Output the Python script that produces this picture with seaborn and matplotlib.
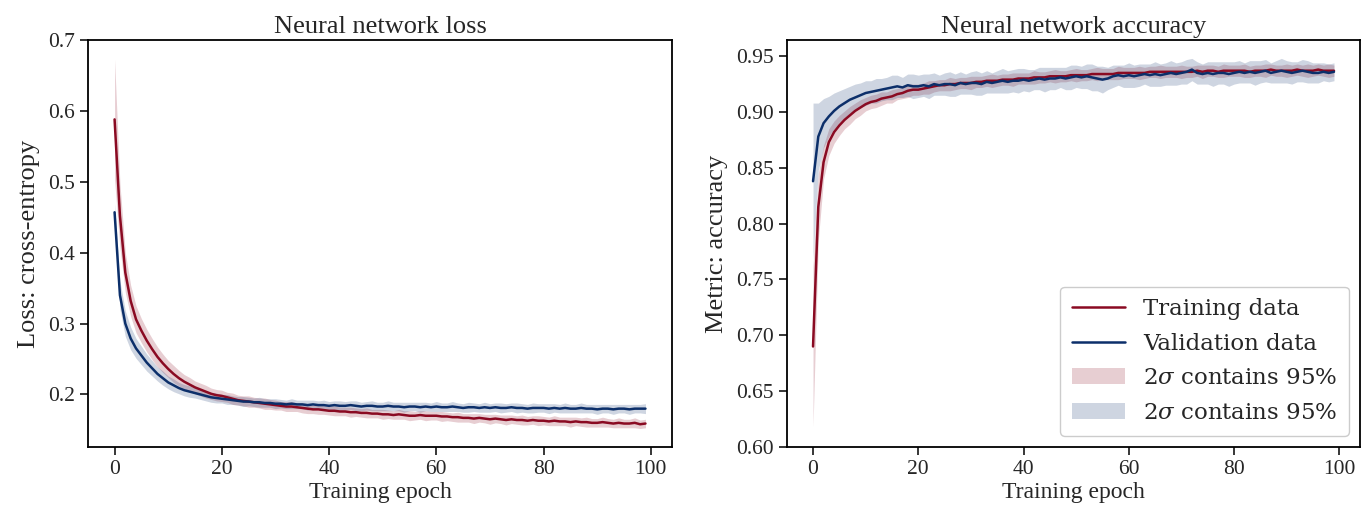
import numpy as np
import pandas as pd
import matplotlib.pyplot as plt
import seaborn as sns
from matplotlib.lines import Line2D
from matplotlib.patches import Patch

# Datos (época 0..99)
epochs = list(range(100))

train_loss = [
    0.588, 0.452, 0.372, 0.332, 0.306, 0.290, 0.276, 0.264, 0.253, 0.244,
    0.236, 0.229, 0.223, 0.218, 0.214, 0.210, 0.207, 0.204, 0.201, 0.199,
    0.198, 0.196, 0.194, 0.192, 0.191, 0.190, 0.189, 0.188, 0.187, 0.186,
    0.185, 0.184, 0.183, 0.183, 0.182, 0.181, 0.180, 0.179, 0.179, 0.178,
    0.177, 0.177, 0.176, 0.176, 0.175, 0.175, 0.174, 0.174, 0.173, 0.173,
    0.172, 0.172, 0.171, 0.172, 0.171, 0.170, 0.170, 0.171, 0.170, 0.170,
    0.170, 0.169, 0.169, 0.168, 0.168, 0.167, 0.167, 0.166, 0.167, 0.166,
    0.165, 0.166, 0.165, 0.164, 0.165, 0.164, 0.164, 0.163, 0.164, 0.163,
    0.163, 0.162, 0.163, 0.162, 0.162, 0.161, 0.162, 0.161, 0.161, 0.160,
    0.160, 0.161, 0.160, 0.159, 0.160, 0.159, 0.159, 0.160, 0.158, 0.159,
]
val_loss = [
    0.457, 0.340, 0.300, 0.279, 0.265, 0.255, 0.245, 0.237, 0.229, 0.223,
    0.217, 0.213, 0.209, 0.206, 0.204, 0.202, 0.200, 0.198, 0.196, 0.195,
    0.194, 0.193, 0.192, 0.191, 0.190, 0.190, 0.189, 0.189, 0.188, 0.188,
    0.187, 0.187, 0.186, 0.187, 0.186, 0.186, 0.185, 0.186, 0.185, 0.185,
    0.184, 0.185, 0.184, 0.184, 0.185, 0.184, 0.183, 0.184, 0.184, 0.183,
    0.183, 0.184, 0.183, 0.183, 0.182, 0.183, 0.183, 0.182, 0.183, 0.182,
    0.183, 0.182, 0.182, 0.183, 0.182, 0.181, 0.182, 0.182, 0.181, 0.182,
    0.181, 0.182, 0.181, 0.181, 0.182, 0.181, 0.181, 0.180, 0.181, 0.181,
    0.181, 0.180, 0.181, 0.180, 0.181, 0.180, 0.180, 0.181, 0.180, 0.180,
    0.179, 0.180, 0.180, 0.179, 0.180, 0.180, 0.179, 0.180, 0.180, 0.180,
]
# medio ancho de la banda 2-sigma
train_loss_band = [
    0.085, 0.045, 0.028, 0.022, 0.019, 0.017, 0.016, 0.015, 0.014, 0.013,
    0.012, 0.012, 0.011, 0.010, 0.010, 0.009, 0.009, 0.009, 0.008, 0.008,
    0.008, 0.007, 0.008, 0.007, 0.007, 0.008, 0.007, 0.007, 0.008, 0.007,
    0.007, 0.006, 0.007, 0.007, 0.006, 0.007, 0.007, 0.006, 0.007, 0.006,
    0.006, 0.007, 0.006, 0.006, 0.007, 0.006, 0.006, 0.007, 0.006, 0.006,
    0.007, 0.006, 0.006, 0.007, 0.006, 0.007, 0.006, 0.006, 0.007, 0.006,
    0.006, 0.007, 0.006, 0.006, 0.007, 0.006, 0.006, 0.007, 0.006, 0.006,
    0.007, 0.006, 0.006, 0.007, 0.006, 0.006, 0.007, 0.006, 0.006, 0.007,
    0.006, 0.006, 0.007, 0.006, 0.006, 0.007, 0.006, 0.006, 0.007, 0.006,
    0.006, 0.007, 0.006, 0.006, 0.007, 0.006, 0.006, 0.007, 0.006, 0.006,
]
val_loss_band = [
    0.012, 0.020, 0.018, 0.016, 0.014, 0.013, 0.012, 0.011, 0.010, 0.010,
    0.009, 0.009, 0.008, 0.008, 0.008, 0.007, 0.007, 0.007, 0.007, 0.007,
    0.006, 0.007, 0.006, 0.006, 0.007, 0.006, 0.006, 0.007, 0.006, 0.006,
    0.007, 0.006, 0.006, 0.007, 0.006, 0.006, 0.007, 0.006, 0.006, 0.007,
    0.006, 0.006, 0.007, 0.006, 0.006, 0.007, 0.006, 0.006, 0.007, 0.006,
    0.006, 0.007, 0.006, 0.006, 0.007, 0.006, 0.006, 0.007, 0.006, 0.006,
    0.007, 0.006, 0.006, 0.007, 0.006, 0.006, 0.007, 0.006, 0.006, 0.007,
    0.006, 0.006, 0.007, 0.006, 0.006, 0.007, 0.006, 0.006, 0.007, 0.006,
    0.006, 0.007, 0.006, 0.006, 0.007, 0.006, 0.006, 0.007, 0.006, 0.006,
    0.007, 0.006, 0.006, 0.007, 0.006, 0.006, 0.007, 0.006, 0.006, 0.007,
]

train_acc = [
    0.690, 0.815, 0.855, 0.873, 0.882, 0.888, 0.893, 0.897, 0.901, 0.904,
    0.907, 0.909, 0.910, 0.912, 0.913, 0.914, 0.916, 0.917, 0.919, 0.920,
    0.920, 0.921, 0.922, 0.923, 0.924, 0.924, 0.925, 0.925, 0.926, 0.926,
    0.926, 0.927, 0.927, 0.928, 0.928, 0.928, 0.929, 0.929, 0.929, 0.930,
    0.930, 0.930, 0.931, 0.931, 0.931, 0.932, 0.932, 0.932, 0.932, 0.933,
    0.933, 0.933, 0.933, 0.934, 0.934, 0.934, 0.934, 0.934, 0.935, 0.935,
    0.935, 0.935, 0.935, 0.935, 0.936, 0.936, 0.936, 0.936, 0.936, 0.936,
    0.936, 0.936, 0.936, 0.937, 0.936, 0.937, 0.937, 0.936, 0.937, 0.937,
    0.937, 0.937, 0.937, 0.936, 0.937, 0.937, 0.937, 0.938, 0.937, 0.937,
    0.937, 0.937, 0.938, 0.937, 0.937, 0.937, 0.938, 0.937, 0.937, 0.937,
]
val_acc = [
    0.838, 0.878, 0.890, 0.896, 0.901, 0.905, 0.908, 0.911, 0.913, 0.915,
    0.917, 0.918, 0.919, 0.920, 0.921, 0.922, 0.923, 0.922, 0.924, 0.923,
    0.923, 0.924, 0.923, 0.925, 0.924, 0.925, 0.925, 0.924, 0.926, 0.925,
    0.926, 0.926, 0.925, 0.927, 0.926, 0.927, 0.928, 0.927, 0.928, 0.928,
    0.929, 0.928, 0.929, 0.930, 0.929, 0.930, 0.930, 0.931, 0.930, 0.931,
    0.932, 0.931, 0.932, 0.931, 0.930, 0.929, 0.930, 0.932, 0.933, 0.932,
    0.933, 0.932, 0.933, 0.934, 0.933, 0.934, 0.933, 0.934, 0.935, 0.934,
    0.935, 0.936, 0.938, 0.935, 0.934, 0.935, 0.934, 0.935, 0.935, 0.934,
    0.935, 0.936, 0.935, 0.936, 0.935, 0.936, 0.937, 0.935, 0.936, 0.937,
    0.936, 0.935, 0.936, 0.937, 0.936, 0.935, 0.935, 0.936, 0.935, 0.936,
]
train_acc_band = [
    0.072, 0.030, 0.015, 0.012, 0.010, 0.009, 0.008, 0.008, 0.007, 0.007,
    0.006, 0.006, 0.006, 0.006, 0.005, 0.006, 0.005, 0.005, 0.006, 0.005,
    0.005, 0.005, 0.006, 0.005, 0.005, 0.005, 0.006, 0.005, 0.005, 0.005,
    0.006, 0.005, 0.005, 0.005, 0.006, 0.005, 0.005, 0.005, 0.006, 0.005,
    0.005, 0.005, 0.006, 0.005, 0.005, 0.005, 0.006, 0.005, 0.005, 0.005,
    0.006, 0.005, 0.005, 0.005, 0.006, 0.005, 0.005, 0.005, 0.006, 0.005,
    0.005, 0.005, 0.006, 0.005, 0.005, 0.005, 0.006, 0.005, 0.005, 0.005,
    0.006, 0.005, 0.005, 0.005, 0.006, 0.005, 0.005, 0.005, 0.006, 0.005,
    0.005, 0.005, 0.006, 0.005, 0.005, 0.005, 0.006, 0.005, 0.005, 0.005,
    0.006, 0.005, 0.005, 0.005, 0.006, 0.005, 0.005, 0.005, 0.006, 0.005,
]
val_acc_band = [
    0.070, 0.030, 0.022, 0.018, 0.016, 0.014, 0.013, 0.012, 0.012, 0.011,
    0.011, 0.010, 0.011, 0.010, 0.010, 0.011, 0.010, 0.009, 0.010, 0.011,
    0.010, 0.010, 0.011, 0.010, 0.009, 0.010, 0.011, 0.010, 0.010, 0.009,
    0.010, 0.011, 0.010, 0.010, 0.009, 0.010, 0.011, 0.010, 0.010, 0.011,
    0.010, 0.010, 0.009, 0.010, 0.011, 0.010, 0.010, 0.009, 0.010, 0.011,
    0.010, 0.010, 0.011, 0.012, 0.011, 0.012, 0.010, 0.010, 0.009, 0.010,
    0.011, 0.010, 0.010, 0.009, 0.010, 0.011, 0.010, 0.010, 0.011, 0.010,
    0.010, 0.011, 0.010, 0.010, 0.009, 0.010, 0.011, 0.010, 0.010, 0.011,
    0.010, 0.010, 0.009, 0.010, 0.011, 0.010, 0.010, 0.009, 0.010, 0.011,
    0.010, 0.010, 0.009, 0.010, 0.010, 0.009, 0.009, 0.008, 0.008, 0.008,
]

red = "#8a0a22"
blue = "#0c2f6a"

sns.set_style("ticks")
plt.rcParams["font.family"] = ["Liberation Serif", "DejaVu Serif"]
plt.rcParams["mathtext.fontset"] = "dejavuserif"
plt.rcParams["axes.linewidth"] = 1.3
plt.rcParams["xtick.major.width"] = 1.3
plt.rcParams["ytick.major.width"] = 1.3
plt.rcParams["xtick.major.size"] = 6
plt.rcParams["ytick.major.size"] = 6
plt.rcParams["axes.edgecolor"] = "black"

df = pd.DataFrame({
    "epoch": epochs,
    "train_loss": train_loss, "val_loss": val_loss,
    "train_loss_band": train_loss_band, "val_loss_band": val_loss_band,
    "train_acc": train_acc, "val_acc": val_acc,
    "train_acc_band": train_acc_band, "val_acc_band": val_acc_band,
})

fig = plt.figure(figsize=(13.67, 5.14), dpi=100)
ax1 = fig.add_axes([0.0644, 0.1304, 0.4272, 0.7918])
ax2 = fig.add_axes([0.5757, 0.1304, 0.4192, 0.7918])


def dibujar(ax, tr, va, titulo, ylabel):
    ax.fill_between(df["epoch"], df[tr] - df[tr + "_band"], df[tr] + df[tr + "_band"],
                    color=red, alpha=0.2, linewidth=0)
    ax.fill_between(df["epoch"], df[va] - df[va + "_band"], df[va] + df[va + "_band"],
                    color=blue, alpha=0.2, linewidth=0)
    sns.lineplot(data=df, x="epoch", y=tr, color=red, linewidth=1.8, ax=ax)
    sns.lineplot(data=df, x="epoch", y=va, color=blue, linewidth=1.8, ax=ax)
    ax.set_title(titulo, fontsize=19, pad=5)
    ax.set_xlabel("Training epoch", fontsize=17, labelpad=2)
    ax.set_ylabel(ylabel, fontsize=19, labelpad=6)
    ax.tick_params(labelsize=15.5)
    ax.set_xticks([0, 20, 40, 60, 80, 100])


dibujar(ax1, "train_loss", "val_loss", "Neural network loss", "Loss: cross-entropy")
ax1.set_yticks([0.2, 0.3, 0.4, 0.5, 0.6, 0.7])
ax1.set_yticklabels(["0.2", "0.3", "0.4", "0.5", "0.6", "0.7"])

dibujar(ax2, "train_acc", "val_acc", "Neural network accuracy", "Metric: accuracy")
acc_ticks = [0.60, 0.65, 0.70, 0.75, 0.80, 0.85, 0.90, 0.95]
ax2.set_yticks(acc_ticks)
ax2.set_yticklabels([f"{t:.2f}" for t in acc_ticks])

handles = [
    Line2D([], [], color=red, linewidth=1.8),
    Line2D([], [], color=blue, linewidth=1.8),
    Patch(facecolor=red, alpha=0.2, linewidth=0),
    Patch(facecolor=blue, alpha=0.2, linewidth=0),
]
labels = ["Training data", "Validation data", r"2$\sigma$ contains 95%", r"2$\sigma$ contains 95%"]
ax2.legend(handles, labels, loc="lower right", prop={"family": "DejaVu Serif", "size": 16.5},
           frameon=True, edgecolor="#cccccc", framealpha=1, borderpad=0.5,
           labelspacing=0.55, handlelength=2.3, handletextpad=0.8)

fig.savefig("out.png", dpi=100)
